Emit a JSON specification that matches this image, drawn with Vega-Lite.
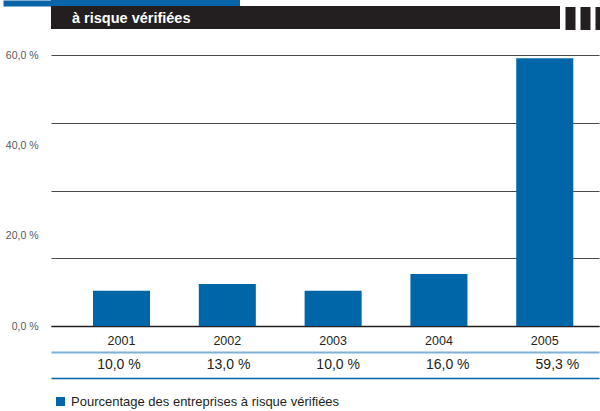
{
  "$schema": "https://vega.github.io/schema/vega-lite/v6.json",
  "background": "white",
  "padding": 0,
  "spacing": 0,
  "config": {
    "view": {"stroke": null},
    "font": "Liberation Sans"
  },
  "datasets": {
    "rows": [
      {"year": "2001", "value": 10.0, "bar": 7.8},
      {"year": "2002", "value": 13.0, "bar": 9.3},
      {"year": "2003", "value": 10.0, "bar": 7.8},
      {"year": "2004", "value": 16.0, "bar": 11.5},
      {"year": "2005", "value": 59.3, "bar": 59.3}
    ],
    "one": [{"k": "a"}]
  },
  "resolve": {"scale": {"color": "independent"}, "legend": {"color": "independent"}},
  "vconcat": [
    {
      "width": 189,
      "height": 6,
      "data": {"name": "one"},
      "view": {"fill": "#0a65a8", "stroke": null},
      "mark": {"type": "point", "opacity": 0},
      "encoding": {
        "y": {
          "field": "k", "type": "nominal",
          "axis": {"title": null, "labels": false, "domain": false, "grid": false, "ticks": true, "tickSize": 48, "tickWidth": 6, "tickColor": "#0a65a8"}
        }
      }
    },
    {
      "width": 509,
      "height": 23,
      "data": {"name": "one"},
      "view": {"fill": "#231f20", "stroke": null},
      "mark": {"type": "text", "text": "à risque vérifiées", "align": "left", "baseline": "middle", "dx": 21, "dy": 1,
        "color": "white", "font": "Liberation Sans", "fontSize": 14.5, "fontWeight": "bold"},
      "encoding": {
        "x": {
          "field": "k", "type": "nominal",
          "scale": {"type": "point", "padding": 0, "align": 0},
          "axis": {"orient": "bottom", "offset": -23, "title": null, "labels": false, "domain": false, "grid": false,
            "ticks": false, "minExtent": 44, "maxExtent": 44}
        },
        "y": {
          "field": "k", "type": "nominal",
          "axis": {"orient": "right", "title": null, "labels": false, "domain": false, "grid": false,
            "ticks": true, "tickSize": 40, "tickWidth": 23, "tickColor": "#231f20", "tickDash": [10, 5], "tickDashOffset": 10}
        }
      }
    },
    {
      "width": 548,
      "height": 271,
      "data": {"name": "rows"},
      "mark": {"type": "bar", "color": "#0066a8"},
      "encoding": {
        "x": {
          "field": "year", "type": "nominal",
          "scale": {"paddingInner": 0.461, "paddingOuter": 0.32, "align": 0.62},
          "axis": {"orient": "bottom", "title": null, "ticks": false, "labelAngle": 0,
            "domainColor": "#231f20", "domainWidth": 1.5,
            "labelFont": "Liberation Sans", "labelFontSize": 12.5, "labelColor": "#231f20",
            "labelPadding": 8, "minExtent": 26, "maxExtent": 26}
        },
        "y": {
          "field": "bar", "type": "quantitative",
          "scale": {"domain": [0, 60], "nice": false},
          "axis": {"orient": "left", "title": null, "values": [0, 15, 20, 30, 40, 45, 60],
            "grid": true, "gridColor": "#4a4a4a", "gridWidth": 1.2,
            "gridOpacity": {"condition": {"test": "datum.value % 15 === 0", "value": 1}, "value": 0},
            "ticks": false, "domain": false, "labelOverlap": false,
            "labelExpr": "datum.value % 20 === 0 ? replace(format(datum.value, '.1f'), '.', ',') + ' %' : ''",
            "labelFont": "Liberation Sans", "labelFontSize": 10.5, "labelColor": "#58595b",
            "labelPadding": 13}
        }
      }
    },
    {
      "width": 548,
      "height": 26,
      "data": {"name": "rows"},
      "mark": {"type": "text", "font": "Liberation Sans", "fontSize": 14, "color": "#231f20", "baseline": "middle",
        "text": {"expr": "replace(format(datum.value, '.1f'), '.', ',') + ' %'"}},
      "encoding": {
        "x": {
          "field": "year", "type": "nominal",
          "scale": {"paddingInner": 0.461, "paddingOuter": 0.32, "align": 0.62},
          "axis": {"orient": "top", "title": null, "labels": false, "ticks": false, "grid": false,
            "domainColor": "#7fb0d8", "domainWidth": 2, "maxExtent": 0}
        }
      }
    },
    {
      "width": 548,
      "height": 8,
      "data": {"name": "rows"},
      "mark": {"type": "bar", "opacity": 0},
      "encoding": {
        "x": {
          "field": "year", "type": "nominal",
          "axis": {"orient": "top", "title": null, "labels": false, "ticks": false, "grid": false,
            "domain": true, "domainOpacity": 1, "domainColor": "#0066a8", "domainWidth": 1.5, "maxExtent": 0}
        },
        "color": {
          "datum": "Pourcentage des entreprises à risque vérifiées",
          "scale": {"range": ["#0066a8"]},
          "legend": {
            "title": null, "orient": "none", "legendX": 3, "legendY": 17, "padding": 0,
            "symbolType": "square", "symbolSize": 81, "symbolOpacity": 1, "symbolStrokeWidth": 0,
            "labelFont": "Liberation Sans", "labelFontSize": 13, "labelColor": "#231f20", "labelOffset": 4,
            "labelLimit": 400
          }
        }
      }
    }
  ]
}
